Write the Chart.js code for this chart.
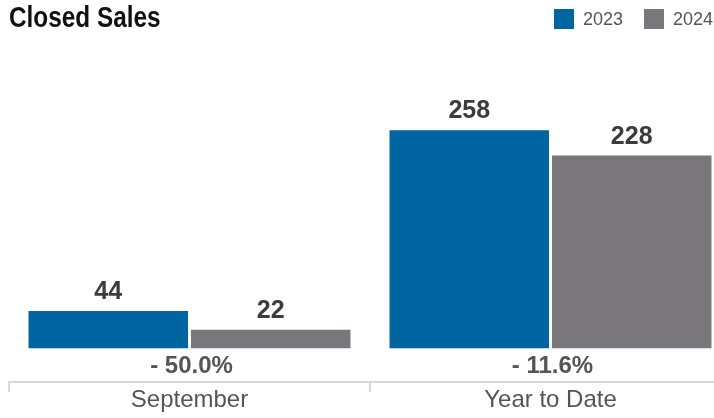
<!DOCTYPE html>
<html>
<head>
<meta charset="utf-8">
<script src="https://cdn.jsdelivr.net/npm/chart.js@4.4.1/dist/chart.umd.min.js"></script>
<style>
  body { margin: 0; background: #fff; }
  #wrap { position: relative; width: 714px; height: 418px; overflow: hidden; }
  #chart { position: absolute; left: 0; top: 0; }
  #title { position: absolute; left: 9px; top: 1px; font: bold 29px "Liberation Sans", Arial, sans-serif; color: #111;
           transform: scaleX(0.84); transform-origin: 0 0; white-space: nowrap; }
  #legend { position: absolute; top: 9px; left: 554px; font: 18px "Liberation Sans", Arial, sans-serif; color: #555; }
  #legend span.item { position: absolute; top: 0; white-space: nowrap; }
  #legend i { display: inline-block; width: 20px; height: 20px; vertical-align: -4px; margin-right: 9px; }
</style>
</head>
<body>
<div id="wrap">
  <canvas id="chart" width="731" height="418"></canvas>
  <div id="title">Closed Sales</div>
  <div id="legend"></div>
</div>
<script>
const categories = ['September', 'Year to Date'];
const years = ['2023', '2024'];
const sales2023 = [44, 258];
const sales2024 = [22, 228];
const colors = ['#0065a0', '#79777c'];

// legend (html, sits on the title line)
const legendEl = document.getElementById('legend');
const legendX = [0, 90];
years.forEach((y, i) => {
    const s = document.createElement('span');
    s.className = 'item';
    s.style.left = legendX[i] + 'px';
    s.innerHTML = `<i style="background:${colors[i]}"></i>${y}`;
    legendEl.appendChild(s);
});

function pctChange(a, b) {
    const p = (b - a) / a * 100;
    return (p < 0 ? '- ' : '+ ') + Math.abs(p).toFixed(1) + '%';
}

const labelPlugin = {
    id: 'barLabels',
    afterDatasetsDraw(chart) {
        const c = chart.ctx;
        c.save();
        c.textAlign = 'center';
        c.textBaseline = 'alphabetic';
        c.font = 'bold 25px "Liberation Sans", Arial, sans-serif';
        c.fillStyle = '#3c3c3c';
        chart.data.datasets.forEach((ds, di) => {
            chart.getDatasetMeta(di).data.forEach((bar, i) => {
                c.fillText(ds.data[i], bar.x, bar.y - 12);
            });
        });
        // percent change under each group
        const x = chart.scales.x, y = chart.scales.y;
        const base = y.getPixelForValue(0);
        c.font = 'bold 24px "Liberation Sans", Arial, sans-serif';
        c.fillStyle = '#555';
        categories.forEach((cat, i) => {
            c.fillText(pctChange(sales2023[i], sales2024[i]), x.getPixelForValue(i) + 2, base + 25);
        });
        c.restore();
    }
};

new Chart(document.getElementById('chart').getContext('2d'), {
    type: 'bar',
    data: {
        labels: categories,
        datasets: [
            { label: years[0], data: sales2023, backgroundColor: colors[0] },
            { label: years[1], data: sales2024, backgroundColor: colors[1] }
        ]
    },
    options: {
        responsive: false,
        animation: false,
        categoryPercentage: 0.9,
        barPercentage: 0.982,
        layout: { padding: { left: 9, right: 0, top: 61, bottom: 0 } },
        plugins: { legend: { display: false }, tooltip: { enabled: false } },
        scales: {
            y: { display: false, min: -40, max: 340 },
            x: {
                afterFit(scale) { scale.height = 36; },
                border: { color: '#d9d9d9', width: 2 },
                grid: { offset: true, drawOnChartArea: false, drawTicks: true, tickLength: 10, color: '#d9d9d9', lineWidth: 2 },
                ticks: { color: '#555', padding: -6, font: { family: '"Liberation Sans", Arial, sans-serif', size: 24 } }
            }
        }
    },
    plugins: [labelPlugin]
});
</script>
</body>
</html>
